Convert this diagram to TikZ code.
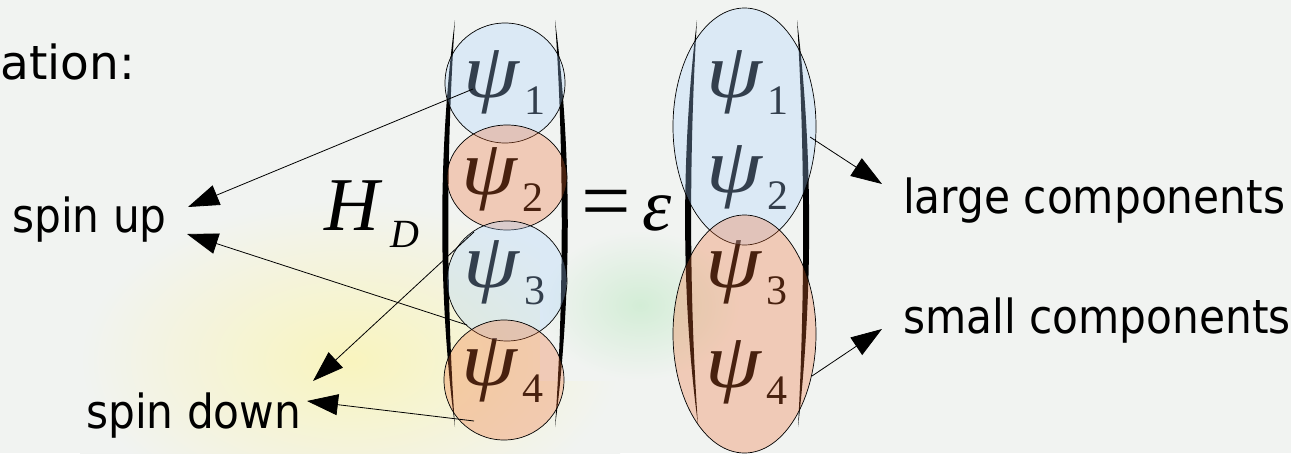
\documentclass[tikz,border=0pt]{standalone}
\usepackage{fontspec}
\setmainfont{DejaVu Sans}[FakeStretch=0.9]
\newfontfamily\titlefont{DejaVu Sans}
\newfontfamily\wffont{Liberation Serif}
\newfontfamily\psifont{Liberation Serif}[FakeStretch=1.15]
\usetikzlibrary{positioning,arrows.meta,shapes.geometric}
\definecolor{bgpage}{HTML}{F1F3F1}
\definecolor{bgyellow}{HTML}{F9F4BE}
\definecolor{bggreen}{HTML}{D3EDD6}
\definecolor{cup}{RGB}{170,210,255}
\definecolor{cdown}{RGB}{240,110,50}
\newcommand{\wf}[1]{{\fontsize{78}{78}\selectfont\psifont\itshape ψ}\kern6pt\raisebox{-17pt}{\fontsize{42}{42}\selectfont\wffont #1}}

\begin{document}
\begin{tikzpicture}[
  x=1pt, y=-1pt,
  >={Triangle[length=31pt,width=21pt]},
  lbl/.style={font=\fontsize{47}{47}\selectfont, inner sep=0pt},
  wfn/.style={inner sep=0pt, anchor=base west},
  blob/.style={draw=black, line width=0.7pt, inner sep=0pt, fill opacity=0.3},
  upc/.style={blob, fill=cup},
  downc/.style={blob, fill=cdown},
  arr/.style={->, line width=0.8pt},
  brk/.style={fill=black},
]
\fill[bgpage] (0,0) rectangle (1291,453);
\useasboundingbox (0,0) rectangle (1291,453);
\shade[inner color=bgyellow, outer color=bgpage] (80,200) rectangle (620,520);
\shade[inner color=bggreen, outer color=bgpage] (540,230) rectangle (740,380);

\node[lbl, font=\fontsize{47}{47}\selectfont\titlefont, anchor=base west] (ation) at (0,79) {ation:};
\node[lbl, anchor=base west] (up) at (12,232) {spin up};
\node[lbl, anchor=base west] (down) at (86,428) {spin down};
\node[lbl, anchor=base west] (large) at (903,213) {large components};
\node[lbl, anchor=base west] (small) at (903,333) {small components};

\node[inner sep=0pt, anchor=base west] (hd) at (324,230)
  {\fontsize{76}{76}\selectfont\wffont\itshape H\kern11pt\raisebox{-17pt}{\fontsize{40}{40}\selectfont D}};
\node[inner sep=0pt, anchor=base west] (eq) at (581,230)
  {\fontsize{88}{88}\selectfont\wffont =\kern12pt\fontsize{74}{74}\selectfont\itshape ε};

\fill[brk] (455,20) .. controls (438,150) and (438,297) .. (455,427) .. controls (446,297) and (446,150) .. (455,20);
\fill[brk] (555,20) .. controls (572,150) and (572,297) .. (555,427) .. controls (564,297) and (564,150) .. (555,20);
\fill[brk] (697,20) .. controls (681,150) and (681,297) .. (698,425) .. controls (689,297) and (689,150) .. (697,20);
\fill[brk] (797,20) .. controls (813,150) and (813,297) .. (798,427) .. controls (805,297) and (805,150) .. (797,20);

\node[wfn] (l1) at (463,97) {\wf{1}};
\node[wfn] (l2) at (461,194) {\wf{2}};
\node[wfn] (l3) at (463,287) {\wf{3}};
\node[wfn] (l4) at (461,385) {\wf{4}};
\node[wfn] (r1) at (706,97) {\wf{1}};
\node[wfn] (r2) at (706,192) {\wf{2}};
\node[wfn] (r3) at (705,287) {\wf{3}};
\node[wfn] (r4) at (705,387) {\wf{4}};

\node[upc, circle, minimum size=120pt] (c1) at (505,83) {};
\node[downc, ellipse, minimum width=120pt, minimum height=105pt] (c2) at (507,177.5) {};
\node[upc, circle, minimum size=120pt] (c3) at (507,281) {};
\node[downc, circle, minimum size=120pt] (c4) at (504,380) {};
\node[upc, ellipse, minimum width=143pt, minimum height=237pt] (e1) at (744.5,126.5) {};
\node[downc, ellipse, minimum width=143pt, minimum height=238pt] (e2) at (744.5,334) {};

\coordinate (s1) at (473,89);
\coordinate (s2) at (467,325);
\coordinate (s3) at (474,232);
\coordinate (s4) at (474,421);
\coordinate (s5) at (810,137);
\coordinate (s6) at (812,376);
\coordinate (upa) at (188,207);
\coordinate (upb) at (187,234);
\coordinate (downa) at (313,381);
\coordinate (downb) at (307,401);
\coordinate (largea) at (882,184);
\coordinate (smalla) at (882,329);
\draw[arr] (s1) -- (upa);
\draw[arr] (s2) -- (upb);
\draw[arr] (s3) -- (downa);
\draw[arr] (s4) -- (downb);
\draw[arr] (s5) -- (largea);
\draw[arr] (s6) -- (smalla);
\end{tikzpicture}
\end{document}
